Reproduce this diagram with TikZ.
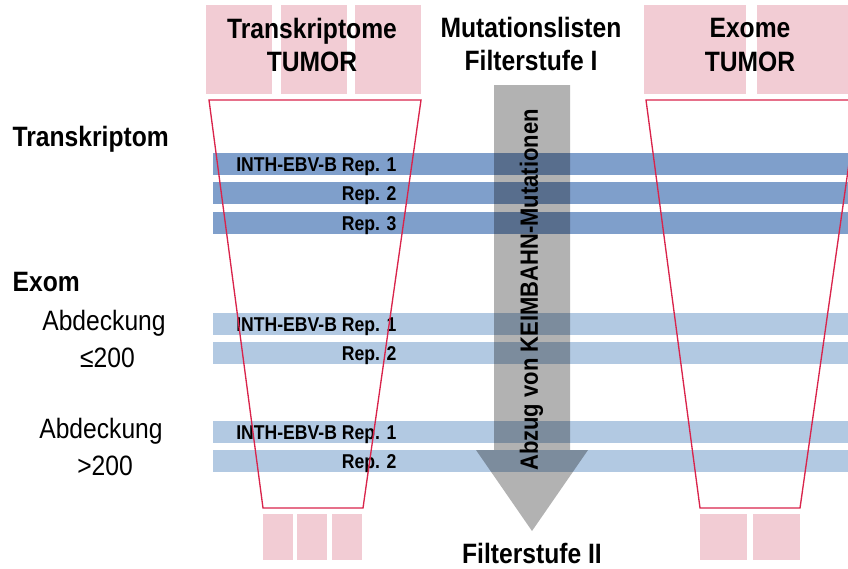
\documentclass[tikz,border=0pt]{standalone}
\usepackage{fontspec}
\setmainfont{Liberation Sans}[FakeStretch=0.88]
\usetikzlibrary{positioning}
\definecolor{rosa}{HTML}{F2CCD4}
\definecolor{trichter}{HTML}{D9244B}
\definecolor{dunkelblau}{HTML}{7F9FCB}
\definecolor{hellblau}{HTML}{B2C9E2}

\begin{document}
\begin{tikzpicture}[x=0.75pt,y=-0.75pt,line width=1pt,
  probe/.style={fill=rosa},
  funnel/.style={draw=trichter,line width=1pt},
  rep/.style={font=\fontsize{15}{18}\selectfont\bfseries,anchor=base east,inner sep=0pt},
  head/.style={font=\fontsize{21}{25}\selectfont\bfseries,align=center,inner sep=0pt},
  side/.style={font=\fontsize{21}{25}\selectfont,anchor=base,inner sep=0pt}]
  \clip (0,0) rectangle (848,568);
  % Proben oben und unten
  \fill[probe] (206,5) rectangle (272,94);
  \fill[probe] (281,5) rectangle (347,94);
  \fill[probe] (355,5) rectangle (421,94);
  \fill[probe] (644,5) rectangle (746,94);
  \fill[probe] (757,5) rectangle (859,94);
  \fill[probe] (263,514) rectangle (293,560);
  \fill[probe] (297,514) rectangle (327,560);
  \fill[probe] (332,514) rectangle (362,560);
  \fill[probe] (700,514) rectangle (747,560);
  \fill[probe] (753,514) rectangle (800,560);
  % Balken
  \fill[dunkelblau] (213,153) rectangle (848,175);
  \fill[dunkelblau] (213,182) rectangle (848,204);
  \fill[dunkelblau] (213,212) rectangle (848,234);
  \fill[hellblau] (213,313) rectangle (848,335);
  \fill[hellblau] (213,342) rectangle (848,364);
  \fill[hellblau] (213,421) rectangle (848,443);
  \fill[hellblau] (213,450) rectangle (848,472);
  \node[rep] (tr1) at (397,171.5) {INTH-EBV-B Rep. 1};
  \node[rep] (tr2) at (397,200.5) {Rep. 2};
  \node[rep] (tr3) at (397,230.5) {Rep. 3};
  \node[rep] (ex1) at (397,331.5) {INTH-EBV-B Rep. 1};
  \node[rep] (ex2) at (397,360.5) {Rep. 2};
  \node[rep] (ex3) at (397,439.5) {INTH-EBV-B Rep. 1};
  \node[rep] (ex4) at (397,468.5) {Rep. 2};
  % Trichter
  \draw[funnel] (209,100) -- (421,100) -- (363,508) -- (263,508) -- cycle;
  \draw[funnel] (646,100) -- (858,100) -- (800,508) -- (700,508) -- cycle;
  % Pfeil
  \fill[black,fill opacity=0.3] (494,85) -- (570,85) -- (570,450) -- (588,450)
    -- (532,531) -- (476,450) -- (494,450) -- cycle;
  \node[rotate=90,inner sep=0pt,font=\fontsize{18.75}{22}\selectfont\bfseries] (abzug) at (531.5,290) {Abzug von KEIMBAHN-Mutationen};
  % Texte
  \node[head] (tumT) at (312,45) {Transkriptome\\TUMOR};
  \node[head] (mutl) at (531,44) {Mutationslisten\\Filterstufe I};
  \node[head] (tumE) at (750,45) {Exome\\TUMOR};
  \node[head,anchor=base] (filt) at (532,563) {Filterstufe II};
  \node[side,anchor=base west,font=\fontsize{21}{25}\selectfont\bfseries] (trans) at (12,146) {Transkriptom};
  \node[side,anchor=base west,font=\fontsize{21}{25}\selectfont\bfseries] (exom) at (12,291.5) {Exom};
  \node[side] (abd1) at (104,330) {Abdeckung};
  \node[side] (le200) at (107.5,367) {≤200};
  \node[side] (abd2) at (101,438) {Abdeckung};
  \node[side] (gt200) at (105,475) {>200};
\end{tikzpicture}
\end{document}
